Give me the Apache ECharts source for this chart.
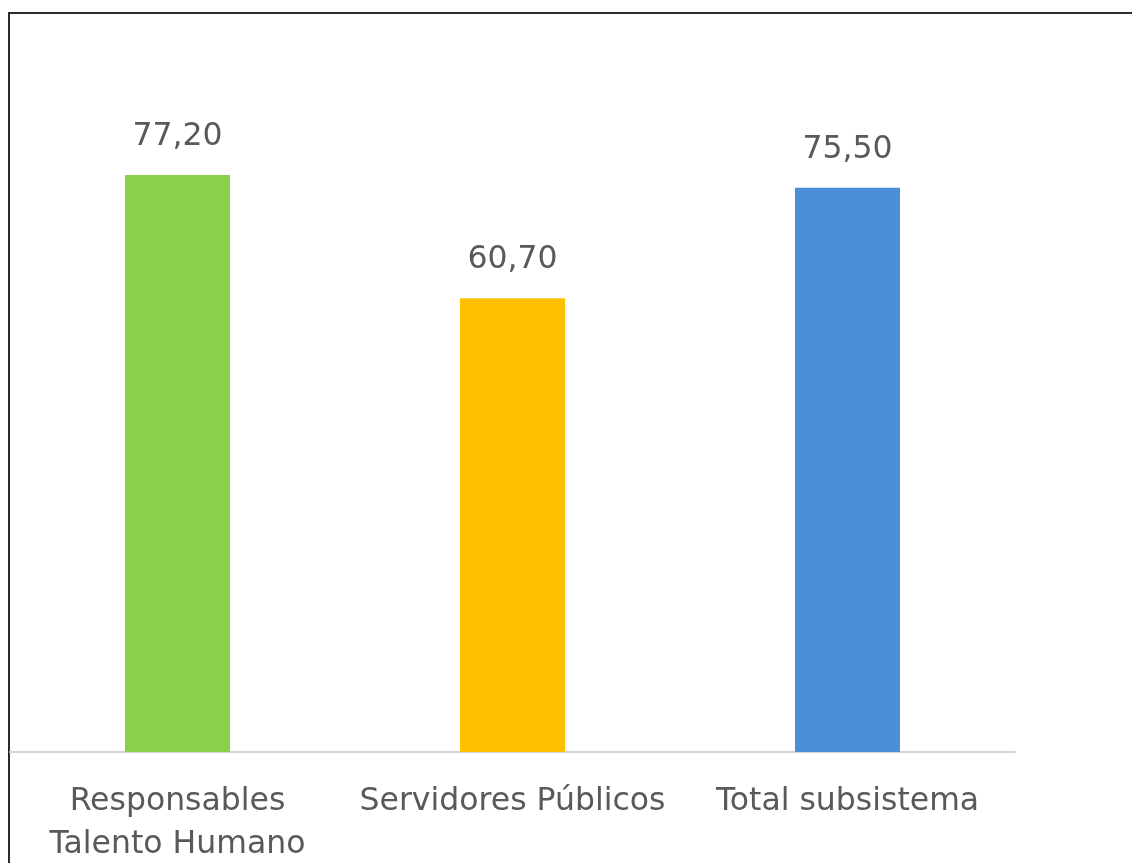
<!DOCTYPE html>
<html>
<head>
<meta charset="utf-8">
<script src="https://cdn.jsdelivr.net/npm/echarts@6/dist/echarts.min.js"></script>
<style>
  html, body { margin: 0; padding: 0; background: #ffffff; }
  #chart { width: 1132px; height: 863px; }
</style>
</head>
<body>
<div id="chart"></div>
<script>
// Categories and values (percent scores)
const categories = ['Responsables\nTalento Humano', 'Servidores Públicos', 'Total subsistema'];
const values = [77.20, 60.70, 75.50];
const barColors = ['#8CCF4C', '#FFC000', '#4A90D9'];

const chart = echarts.init(document.getElementById('chart'), null, { renderer: 'canvas' });

const textColor = '#595959';
const fontFamily = '"DejaVu Sans", "Open Sans", sans-serif';

chart.setOption({
  animation: false,
  backgroundColor: '#ffffff',
  grid: {
    left: 10, right: 117, top: 79.25, bottom: 111,
    containLabel: false,
    outerBoundsMode: 'none'
  },
  xAxis: {
    type: 'category',
    data: categories,
    axisLine: { show: true, lineStyle: { color: '#D4D4D4', width: 2 } },
    axisTick: { show: false },
    axisLabel: {
      interval: 0,
      color: textColor,
      fontFamily: fontFamily,
      fontSize: 31.5,
      lineHeight: 43,
      margin: 28
    }
  },
  yAxis: {
    type: 'value',
    min: 0,
    max: 90,
    show: false,
    splitLine: { show: false }
  },
  series: [{
    type: 'bar',
    barWidth: 105,
    data: values.map((v, i) => ({ value: v, itemStyle: { color: barColors[i] } })),
    label: {
      show: true,
      position: 'top',
      distance: 22,
      color: textColor,
      fontFamily: fontFamily,
      fontSize: 31.5,
      formatter: p => p.value.toFixed(2).replace('.', ',')
    }
  }],
  graphic: [{
    type: 'polyline',
    silent: true,
    shape: { points: [[9, 863], [9, 13], [1132, 13]] },
    style: { stroke: '#2b2b2b', lineWidth: 2, fill: null }
  }]
});
</script>
</body>
</html>
